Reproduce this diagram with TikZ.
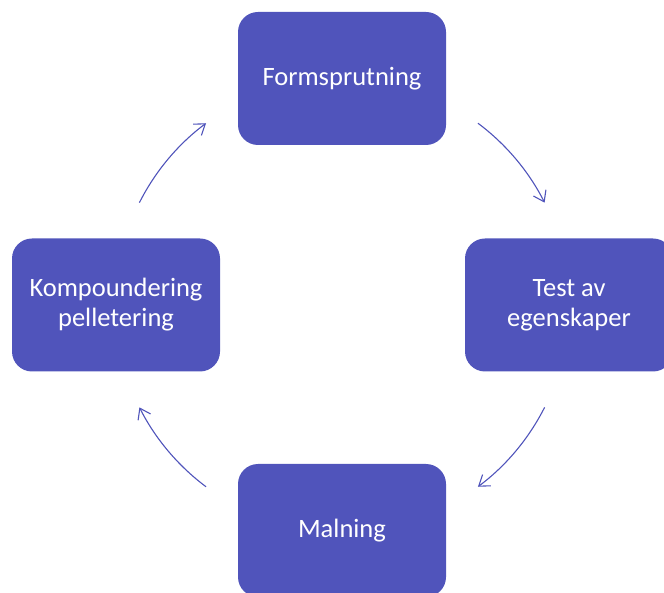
\documentclass[tikz,border=0pt]{standalone}
\usepackage{fontspec}
\setmainfont{Carlito}
\usetikzlibrary{arrows.meta}
\definecolor{boxblue}{HTML}{5054BB}
\tikzset{
  stepbox/.style={rectangle, rounded corners=20pt, fill=boxblue, draw=none,
    minimum width=208pt, minimum height=133pt, text=white, align=center,
    font=\fontsize{26.5}{30}\selectfont, inner sep=0pt},
  arr/.style={draw=boxblue, line width=1.1pt, -{Straight Barb[length=10pt,width=14pt,line width=1.1pt]}}
}
\begin{document}
\begin{tikzpicture}[x=1pt,y=1pt]
\useasboundingbox (0,0) rectangle (664,592);
\coordinate (ctr) at (342,287);
\node[stepbox] (form) at (342,513.5) {Formsprutning};
\node[stepbox] (test) at (569,287) {Test av\\egenskaper};
\node[stepbox] (maln) at (342,61.5) {Malning};
\node[stepbox] (komp) at (116,287) {Kompoundering\\pelletering};
\path (ctr) ++(53.2:227) coordinate (s1);
\path (ctr) ++(-26.8:227) coordinate (s2);
\path (ctr) ++(233.2:227) coordinate (s3);
\path (ctr) ++(153.2:227) coordinate (s4);
\draw[arr] (s1) arc[start angle=53.2, end angle=26.8, radius=227];
\draw[arr] (s2) arc[start angle=-26.8, end angle=-53.2, radius=227];
\draw[arr] (s3) arc[start angle=233.2, end angle=206.8, radius=227];
\draw[arr] (s4) arc[start angle=153.2, end angle=126.8, radius=227];
\end{tikzpicture}
\end{document}
